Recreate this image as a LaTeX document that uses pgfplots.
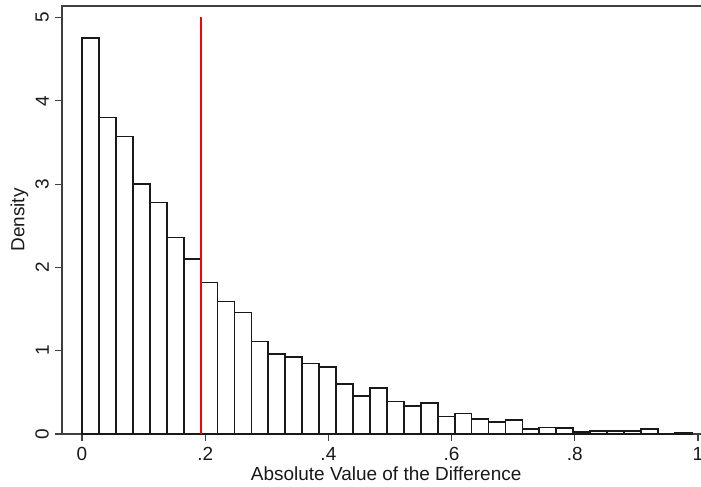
\documentclass[border=0pt]{standalone}
\usepackage{fontspec}
\setmainfont{Liberation Sans}
\usepackage{pgfplots}
\pgfplotsset{compat=1.18}
\usepackage{pgfplotstable}
\pgfplotstableread{
x y
0 4.75
0.0275 3.80
0.055 3.57
0.0825 3.00
0.11 2.78
0.1375 2.36
0.165 2.10
0.1925 1.82
0.22 1.59
0.2475 1.46
0.275 1.11
0.3025 0.96
0.33 0.92
0.3575 0.845
0.385 0.80
0.4125 0.60
0.44 0.46
0.4675 0.555
0.495 0.39
0.5225 0.34
0.55 0.375
0.5775 0.21
0.605 0.245
0.6325 0.18
0.66 0.14
0.6875 0.165
0.715 0.056
0.7425 0.078
0.77 0.075
0.7975 0.028
0.825 0.04
0.8525 0.04
0.88 0.04
0.9075 0.06
0.935 0.004
0.9625 0.014
0.99 0.014
}\histdata
\begin{document}
\begin{tikzpicture}
\begin{axis}[
  name=ax,
  scale only axis,
  width=12.966cm, height=8.56cm,
  xmin=-0.0325, xmax=1.02,
  ymin=0, ymax=5.138,
  axis line style={black!75, line width=0.6pt},
  xtick={0,0.2,0.4,0.6,0.8,1},
  xticklabels={0,.2,.4,.6,.8,1},
  ytick={0,1,2,3,4,5},
  xtick pos=bottom, ytick pos=left,
  tick align=outside,
  major tick length=0.14cm,
  tick style={black!75, line width=0.6pt},
  /pgf/number format/assume math mode=true,
  ticklabel style={font=\fontsize{10.8}{12}\selectfont, black!90},
  yticklabel style={rotate=90, anchor=south},
  label style={font=\fontsize{10.8}{12}\selectfont, black!90},
  xlabel={Absolute Value of the Difference},
  ylabel={Density},
  xlabel style={yshift=0.12cm},
  ylabel style={yshift=-0.1cm},
  clip=false,
]
\addplot[ybar interval, fill=white, draw=black!90, line width=1pt] table[x=x,y=y] {\histdata};
\addplot[red, line width=0.9pt] coordinates {(0.1935,0) (0.1935,5)};
\end{axis}
\pgfresetboundingbox
\path[use as bounding box] ([xshift=-1.24cm,yshift=-1.04cm]ax.south west) rectangle ([xshift=12.78cm,yshift=0.12cm]ax.north west);
\end{tikzpicture}
\end{document}
